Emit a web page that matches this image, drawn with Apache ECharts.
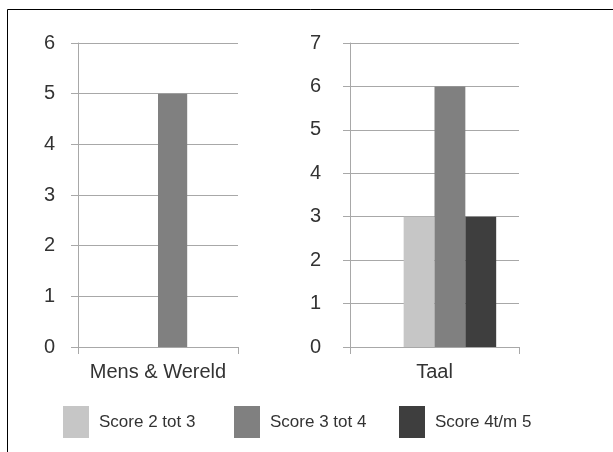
<!DOCTYPE html>
<html>
<head>
<meta charset="utf-8">
<script src="https://cdn.jsdelivr.net/npm/echarts@6/dist/echarts.min.js"></script>
<style>
  html, body { margin: 0; padding: 0; background: #fff; }
  #chart { width: 613px; height: 452px; }
</style>
</head>
<body>
<div id="chart"></div>
<script>
// Subjects (one per panel) and the counts per score band
const subjects = ['Mens & Wereld', 'Taal'];
const seriesNames = ['Score 2 tot 3', 'Score 3 tot 4', 'Score 4t/m 5'];
const score2tot3 = [null, 3];
const score3tot4 = [5, 6];
const score4tm5 = [null, 3];
const axisMax = [6, 7];

const colors = ['#c6c6c6', '#808080', '#3e3e3e'];
const values = [score2tot3, score3tot4, score4tm5];
const gridLine = '#a8a8a8';
const textColor = '#333333';
const font = 'Liberation Sans';

const grids = [
  { left: 78, top: 43, width: 160, height: 304 },
  { left: 350, top: 43, width: 169, height: 304 }
];

const xAxes = subjects.map((s, i) => ({
  type: 'category',
  gridIndex: i,
  data: [s],
  axisLine: { lineStyle: { color: gridLine, width: 1 } },
  axisTick: { show: true, length: 7, lineStyle: { color: gridLine } },
  axisLabel: { color: textColor, fontSize: 20, fontFamily: font, margin: 15 }
}));

const yAxes = axisMax.map((m, i) => ({
  type: 'value',
  gridIndex: i,
  min: 0,
  max: m,
  interval: 1,
  axisLine: { show: true, lineStyle: { color: gridLine, width: 1 } },
  axisTick: { show: true, length: 7, lineStyle: { color: gridLine } },
  splitLine: { lineStyle: { color: gridLine, width: 1 } },
  axisLabel: { color: textColor, fontSize: 20, fontFamily: font, margin: i === 0 ? 23 : 29 }
}));

const series = [];
subjects.forEach((s, i) => {
  // empty leading slot keeps the bar group offset to the right
  series.push({
    type: 'bar', name: 'spacer' + i, xAxisIndex: i, yAxisIndex: i,
    data: [null], barGap: '0%', barCategoryGap: '27%', silent: true
  });
  seriesNames.forEach((n, k) => {
    series.push({
      type: 'bar', name: n, xAxisIndex: i, yAxisIndex: i,
      data: [values[k][i]],
      barGap: '0%', barCategoryGap: '27%',
      itemStyle: { color: colors[k] },
      silent: true
    });
  });
});

const legendLefts = [58, 229, 394];
const legends = seriesNames.map((n, k) => ({
  data: [n],
  left: legendLefts[k],
  top: 401,
  itemWidth: 26,
  itemHeight: 32,
  icon: 'rect',
  textStyle: { color: textColor, fontSize: 17, fontFamily: font, padding: [0, 0, 0, 5] },
  selectedMode: false
}));

const chart = echarts.init(document.getElementById('chart'), null, { renderer: 'canvas' });
chart.setOption({
  animation: false,
  backgroundColor: '#ffffff',
  grid: grids,
  xAxis: xAxes,
  yAxis: yAxes,
  legend: legends,
  series: series,
  graphic: [
    { type: 'line', shape: { x1: 7.5, y1: 9.5, x2: 7.5, y2: 452 }, style: { stroke: '#000', lineWidth: 1 } },
    { type: 'line', shape: { x1: 7.5, y1: 9.5, x2: 613, y2: 9.5 }, style: { stroke: '#000', lineWidth: 1 } }
  ]
});
</script>
</body>
</html>
